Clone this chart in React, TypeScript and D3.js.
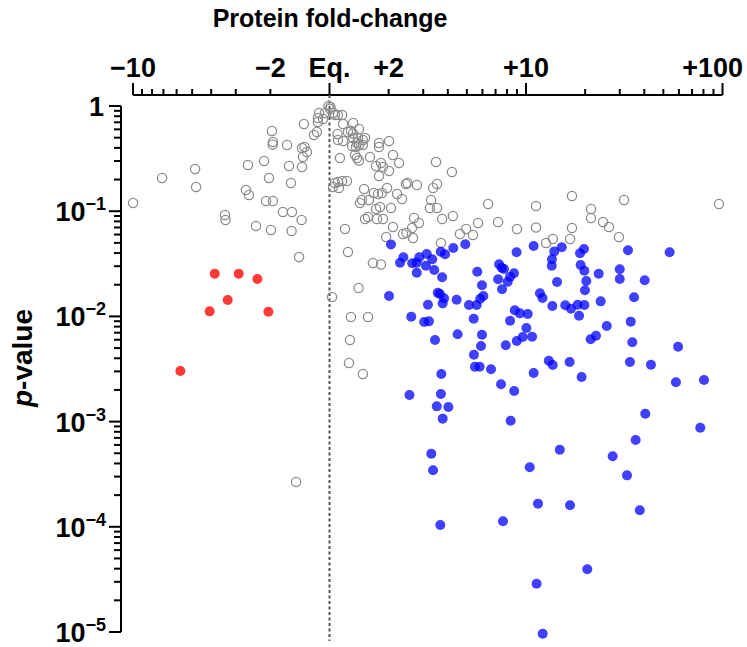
import React from "react";
import * as d3 from "d3";

// Each point: [log10 protein fold-change (signed), -log10 p-value]
const unchanged: [number, number][] = [
  [-1.0, 0.922], [-0.852, 0.684], [-0.684, 0.599], [-0.679, 0.77], [-0.532, 1.036], [-0.529, 1.084],
  [-0.415, 0.561], [-0.425, 0.799], [-0.41, 0.846], [-0.374, 1.141], [-0.333, 0.523], [-0.308, 0.684],
  [-0.323, 0.903], [-0.288, 0.903], [-0.298, 1.179], [-0.293, 0.238], [-0.288, 0.342], [-0.289, 0.366],
  [-0.216, 0.371], [-0.206, 0.57], [-0.196, 0.732], [-0.237, 1.008], [-0.191, 1.008], [-0.193, 1.188],
  [-0.142, 1.084], [-0.155, 1.435], [-0.14, 0.58], [-0.135, 0.485], [-0.14, 0.399], [-0.127, 0.39],
  [-0.115, 0.437], [-0.13, 0.171], [-0.079, 0.276], [-0.064, 0.247], [-0.059, 0.152], [-0.059, 0.114],
  [-0.053, 0.067], [-0.033, 0.124], [-0.023, 0.067], [-0.17, 3.574],
  [-0.005, 0.0], [0.005, 0.01], [0.003, 0.029], [0.018, 0.067],
  [0.028, 0.086], [0.043, 0.086], [0.064, 0.086], [0.069, 0.171], [0.12, 0.162], [0.041, 0.266],
  [0.043, 0.323], [0.069, 0.333], [0.094, 0.247], [0.109, 0.238], [0.12, 0.261], [0.15, 0.219],
  [0.12, 0.304], [0.145, 0.304], [0.17, 0.323], [0.181, 0.304], [0.115, 0.38], [0.135, 0.39],
  [0.14, 0.352], [0.15, 0.371], [0.17, 0.371], [0.13, 0.466], [0.14, 0.494], [0.15, 0.518],
  [0.053, 0.494], [0.252, 0.352], [0.252, 0.39], [0.303, 0.333], [0.206, 0.485], [0.237, 0.57],
  [0.262, 0.542], [0.272, 0.58], [0.252, 0.665], [0.303, 0.618], [0.323, 0.466], [0.354, 0.542],
  [0.542, 0.532], [0.623, 0.627], [0.028, 0.732], [0.043, 0.722], [0.064, 0.713], [0.089, 0.713],
  [0.018, 0.77], [0.048, 0.779], [0.176, 0.789], [0.165, 0.894], [0.155, 0.922], [0.201, 0.894],
  [0.226, 0.827], [0.247, 0.837], [0.267, 0.827], [0.293, 0.779], [0.344, 0.837], [0.369, 0.884],
  [0.389, 0.741], [0.397, 0.732], [0.445, 0.751], [0.527, 0.779], [0.547, 0.741], [0.237, 0.979],
  [0.257, 0.96], [0.313, 0.97], [0.181, 1.074], [0.196, 1.055], [0.242, 1.074], [0.272, 1.074],
  [0.43, 1.065], [0.455, 1.112], [0.517, 0.894], [0.511, 0.97], [0.547, 0.97], [0.573, 1.074],
  [0.628, 1.046], [0.079, 1.169], [0.323, 1.15], [0.42, 1.16], [0.374, 1.217], [0.392, 1.207],
  [0.425, 1.255], [0.288, 1.245], [0.567, 1.302], [0.664, 1.217], [0.695, 1.169], [0.73, 1.226],
  [0.756, 1.112], [0.807, 0.932], [0.858, 1.103], [0.954, 1.169], [1.051, 0.951], [1.051, 1.155],
  [1.102, 1.302], [1.137, 1.264], [1.224, 1.264], [1.234, 1.16], [1.234, 0.856], [1.331, 0.979],
  [1.331, 1.065], [1.392, 1.103], [1.422, 1.15], [1.473, 1.245], [1.499, 0.894], [1.982, 0.932],
  [0.094, 1.388], [0.221, 1.492], [0.262, 1.507], [0.148, 1.73], [0.013, 1.816], [0.109, 2.006],
  [0.196, 2.006], [0.104, 2.224], [0.099, 2.443], [0.17, 2.548],
];

const decreased: [number, number][] = [
  [-0.584, 1.594], [-0.462, 1.594], [-0.367, 1.645], [-0.518, 1.844], [-0.61, 1.952], [-0.311, 1.955],
  [-0.759, 2.519],
];

const increased: [number, number][] = [
  [0.313, 1.317], [0.376, 1.438], [0.359, 1.49], [0.421, 1.495], [0.444, 1.49], [0.457, 1.438],
  [0.495, 1.407], [0.523, 1.457], [0.491, 1.518], [0.444, 1.585], [0.533, 1.559], [0.573, 1.628],
  [0.566, 1.385], [0.588, 1.41], [0.63, 1.35], [0.691, 1.315], [0.303, 1.806], [0.416, 2.003],
  [0.482, 2.053], [0.506, 2.047], [0.501, 1.889], [0.551, 1.775], [0.562, 1.787], [0.583, 1.828],
  [0.576, 1.876], [0.647, 1.841], [0.537, 2.224], [0.652, 2.17], [0.71, 1.892], [0.749, 1.892],
  [0.767, 1.832], [0.783, 1.806], [0.776, 1.704], [0.752, 1.575], [0.734, 2.022], [0.776, 2.174],
  [0.771, 2.281], [0.735, 2.364], [0.74, 2.478], [0.764, 2.478], [0.822, 2.503], [0.569, 2.548],
  [0.407, 2.747], [0.567, 2.738], [0.546, 2.855], [0.605, 2.861], [0.873, 2.645], [0.94, 2.709],
  [1.039, 2.538], [1.116, 2.421], [1.136, 2.462], [0.897, 2.275], [0.953, 2.234], [0.983, 2.196],
  [1.031, 2.193], [1.002, 2.11], [0.919, 2.041], [0.943, 1.942], [0.969, 1.971], [1.009, 1.977],
  [0.858, 1.647], [0.878, 1.742], [0.863, 1.505], [0.876, 1.537], [0.888, 1.549], [0.939, 1.59],
  [0.919, 1.623], [0.907, 1.67], [0.952, 1.391], [1.039, 1.331], [1.071, 1.78], [1.084, 1.825],
  [1.134, 1.901], [1.131, 1.519], [1.132, 1.457], [1.144, 1.382], [1.158, 1.673], [1.182, 1.343],
  [1.275, 1.4], [1.295, 1.359], [1.278, 1.511], [1.297, 1.566], [1.307, 1.664], [1.3, 1.752],
  [1.37, 1.594], [1.477, 1.552], [1.477, 1.645], [1.519, 1.372], [1.731, 1.391], [1.604, 1.657],
  [1.55, 1.818], [1.2, 1.894], [1.229, 1.927], [1.263, 1.889], [1.297, 1.892], [1.27, 1.993],
  [1.38, 1.857], [1.411, 2.091], [1.533, 2.05], [1.329, 2.218], [1.356, 2.184], [1.541, 2.246],
  [1.774, 2.288], [1.222, 2.433], [1.529, 2.433], [1.636, 2.459], [1.283, 2.576], [1.763, 2.626],
  [1.906, 2.605], [0.576, 2.972], [0.922, 2.992], [1.607, 2.925], [1.887, 3.058], [1.558, 3.175],
  [1.441, 3.33], [1.514, 3.511], [1.172, 3.267], [1.019, 3.434], [0.518, 3.305], [0.527, 3.463],
  [1.061, 3.78], [1.224, 3.796], [1.579, 3.843], [0.564, 3.983], [0.883, 3.948], [1.312, 4.404],
  [1.054, 4.541], [1.085, 5.016],
];

// Axis ticks (signed fold-change values)
const xLabelFolds = [-10, -2, 1, 2, 10, 100];
const xLabelTexts = ["\u221210", "\u22122", "Eq.", "+2", "+10", "+100"];
const xMajorFolds = [-10, 1, 10, 100];
const xMinorFolds = [-9, -8, -7, -6, -5, -4, -3, -2, 2, 3, 4, 5, 6, 7, 8, 9, 20, 30, 40, 50, 60, 70, 80, 90];
const yMajorP = [1, 1e-1, 1e-2, 1e-3, 1e-4, 1e-5];
const yExponents = [0, -1, -2, -3, -4, -5];

const foldToLog = (f: number) => (f < 0 ? -Math.log10(-f) : Math.log10(f));

const FONT = "'Liberation Sans', Arial, Helvetica, sans-serif";

export default function App() {
  const x = d3.scaleLinear().domain([-1, 2]).range([133, 722.5]);
  const y = d3.scaleLog().domain([1, 1e-5]).range([106, 632]);
  const axisY = 95;
  const axisX = 121;
  const rightLimit = 743;

  const yMinor: number[] = [];
  for (let e = 0; e > -5; e--) {
    for (let k = 2; k <= 9; k++) yMinor.push(k * Math.pow(10, e - 1));
  }

  const px = (d: [number, number]) => x(d[0]);
  const py = (d: [number, number]) => y(Math.pow(10, -d[1]));

  return (
    <svg
      width={747}
      height={647}
      style={{ position: "absolute", left: 0, top: 0, background: "#fff" }}
      fontFamily={FONT}
    >
      {/* title */}
      <text x={330} y={27} textAnchor="middle" fontSize={25} fontWeight="bold">
        Protein fold-change
      </text>

      {/* x axis */}
      <line x1={x(-1)} x2={x(2)} y1={axisY} y2={axisY} stroke="#000" strokeWidth={2} />
      {xMajorFolds.map((f) => (
        <line key={"M" + f} x1={x(foldToLog(f))} x2={x(foldToLog(f))} y1={axisY} y2={axisY - 12} stroke="#000" strokeWidth={2} />
      ))}
      {xMinorFolds.map((f) => (
        <line key={"m" + f} x1={x(foldToLog(f))} x2={x(foldToLog(f))} y1={axisY} y2={axisY - 6} stroke="#000" strokeWidth={2} />
      ))}
      {xLabelFolds.map((f, i) => {
        const cx = x(foldToLog(f));
        const nearEdge = cx + 32 > rightLimit;
        return (
          <text
            key={"l" + f}
            x={nearEdge ? rightLimit : cx}
            y={77}
            textAnchor={nearEdge ? "end" : "middle"}
            fontSize={27}
            fontWeight="bold"
          >
            {xLabelTexts[i]}
          </text>
        );
      })}

      {/* y axis */}
      <line x1={axisX} x2={axisX} y1={y(1)} y2={y(1e-5)} stroke="#000" strokeWidth={2} />
      {yMajorP.map((p) => (
        <line key={"Y" + p} x1={axisX} x2={axisX - 12} y1={y(p)} y2={y(p)} stroke="#000" strokeWidth={2} />
      ))}
      {yMinor.map((p, i) => (
        <line key={"y" + i} x1={axisX} x2={axisX - 7} y1={y(p)} y2={y(p)} stroke="#000" strokeWidth={2} />
      ))}
      {yMajorP.map((p, i) =>
        yExponents[i] === 0 ? (
          <text key={"t" + p} x={104} y={y(p) + 10} textAnchor="end" fontSize={27} fontWeight="bold">
            1
          </text>
        ) : (
          <text key={"t" + p} x={106} y={y(p) + 10} textAnchor="end" fontSize={27} fontWeight="bold">
            10
            <tspan fontSize={18} dy={-11}>
              {"\u2212" + Math.abs(yExponents[i])}
            </tspan>
          </text>
        )
      )}
      <text
        transform={`translate(32, ${358}) rotate(-90)`}
        textAnchor="middle"
        fontSize={28}
        fontWeight="bold"
      >
        <tspan fontStyle="italic">p</tspan>-value
      </text>

      {/* equivalence line */}
      <line x1={x(0)} x2={x(0)} y1={axisY} y2={641} stroke="#555" strokeWidth={2} strokeDasharray="3,2.5" />

      {/* points */}
      {unchanged.map((d, i) => (
        <circle key={"g" + i} cx={px(d)} cy={py(d)} r={4.6} fill="none" stroke="#8c8c8c" strokeWidth={1.3} />
      ))}
      {increased.map((d, i) => (
        <circle key={"b" + i} cx={px(d)} cy={py(d)} r={5} fill="#0000ff" fillOpacity={0.75} />
      ))}
      {decreased.map((d, i) => (
        <circle key={"r" + i} cx={px(d)} cy={py(d)} r={5} fill="#ff0000" fillOpacity={0.78} />
      ))}
    </svg>
  );
}
